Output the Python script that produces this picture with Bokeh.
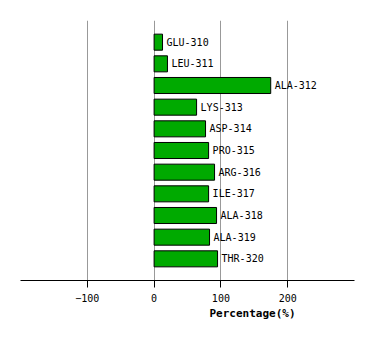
from bokeh.plotting import figure
from bokeh.models import FactorRange, Range1d, ColumnDataSource, Title, FixedTicker
from bokeh.core.properties import value
from bokeh.embed import file_html
from bokeh.resources import INLINE

residues = ["GLU-310", "LEU-311", "ALA-312", "LYS-313", "ASP-314", "PRO-315",
            "ARG-316", "ILE-317", "ALA-318", "ALA-319", "THR-320"]
percentages = [12.6, 20, 174.6, 63.6, 77, 81.6, 90.5, 81.6, 93.5, 83, 95]
x_ticks = [-100, 0, 100, 200]

src = ColumnDataSource(dict(res=residues, pct=percentages))

p = figure(width=374, height=340, output_backend="svg", toolbar_location=None,
           y_range=FactorRange(factors=residues[::-1], range_padding=0.5,
                               range_padding_units="absolute"),
           x_range=Range1d(-200, 300),
           min_border_left=20, min_border_right=20, min_border_top=20,
           min_border_bottom=60)
p.outline_line_color = None
p.background_fill_color = "white"

p.hbar(y="res", right="pct", left=0, height=0.74, source=src,
       fill_color="#00aa00", line_color="black", line_width=1)
p.text(x="pct", y="res", text="res", source=src, x_offset=4,
       text_baseline="middle", text_align="left",
       text_font=value("DejaVu Sans Mono"), text_font_size="10px",
       text_color="black")

p.yaxis.visible = False
p.ygrid.grid_line_color = None
p.xgrid.ticker = FixedTicker(ticks=x_ticks)
p.xgrid.grid_line_color = "#999999"
p.xgrid.grid_line_alpha = 1
p.xaxis.ticker = FixedTicker(ticks=x_ticks)
p.xaxis.major_tick_in = 0
p.xaxis.major_tick_out = 7
p.xaxis.minor_tick_line_color = None
p.xaxis.axis_line_color = "black"
p.xaxis.major_tick_line_color = "black"
p.xaxis.major_label_text_font = "DejaVu Sans Mono"
p.xaxis.major_label_text_font_size = "10px"
p.xaxis.major_label_text_color = "black"
p.xaxis.major_label_standoff = 6

p.add_layout(Title(text="Percentage(%)", text_font="DejaVu Sans Mono",
                   text_font_size="11px", text_font_style="bold",
                   align="left", offset=189, standoff=0,
                   text_color="black"), "below")

open("out.html", "w").write(file_html(p, INLINE))
